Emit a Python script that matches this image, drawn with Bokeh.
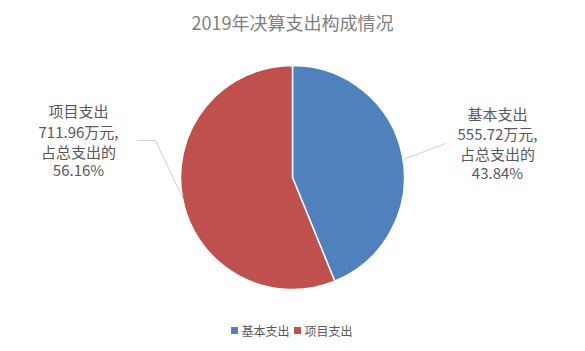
import numpy as np
from bokeh.plotting import figure
from bokeh.models import ColumnDataSource, Range1d
from bokeh.core.properties import value
from bokeh.embed import file_html
from bokeh.resources import INLINE

title = "2019年决算支出构成情况"
categories = ["基本支出", "项目支出"]
amounts = [555.72, 711.96]
percents = ["43.84%", "56.16%"]
colors = ["#4F81BD", "#C0504D"]

W, H = 585, 351
FONT = "Noto Sans CJK SC"

p = figure(width=W, height=H, output_backend="svg", toolbar_location=None,
           x_range=Range1d(0, W), y_range=Range1d(0, H),
           min_border=0, match_aspect=False)
p.axis.visible = False
p.grid.visible = False
p.outline_line_color = None
p.background_fill_color = "white"

def Y(y):
    return H - y

cx, cy, r = 292, Y(177), 112

vals = np.array(amounts)
frac = vals / vals.sum()
ends = np.pi / 2 - np.concatenate([[0], np.cumsum(frac)[:-1]]) * 2 * np.pi
starts = ends - frac * 2 * np.pi
src = ColumnDataSource(dict(start=starts, end=ends, color=colors, cat=categories))
p.wedge(x=cx, y=cy, radius=r, start_angle="start", end_angle="end",
        fill_color="color", line_color="white", line_width=1.5, source=src)

# leader lines
p.line(x=[403, 445], y=[Y(159), Y(143)], line_color="#d0d0d0", line_width=1)
p.line(x=[137, 155, 183], y=[Y(140), Y(140), Y(199)], line_color="#d0d0d0", line_width=1)

# labels
label_pos = [(497, [113, 133, 153, 172]), (78, [110, 131, 151, 169])]
for i, (lx, ys) in enumerate(label_pos):
    lines = [categories[i], f"{amounts[i]:.2f}万元,", "占总支出的", percents[i]]
    p.text(x=[lx] * 4, y=[Y(v) for v in ys], text=lines,
           text_font=value(FONT), text_font_size="15px", text_color="#595959",
           text_align="center", text_baseline="middle")

# title
p.text(x=[292], y=[Y(21)], text=[title], text_font=value(FONT),
       text_font_size="18px", text_color="#808080",
       text_align="center", text_baseline="middle")

# legend
leg_sq = [234, 297]
leg_tx = [241, 304]
for i in range(2):
    p.scatter(x=[leg_sq[i]], y=[Y(330)], marker="square", size=7,
              fill_color=colors[i], line_color=None)
    p.text(x=[leg_tx[i]], y=[Y(330)], text=[categories[i]], text_font=value(FONT),
           text_font_size="12px", text_color="#595959",
           text_align="left", text_baseline="middle")

open("out.html", "w").write(file_html(p, INLINE))
